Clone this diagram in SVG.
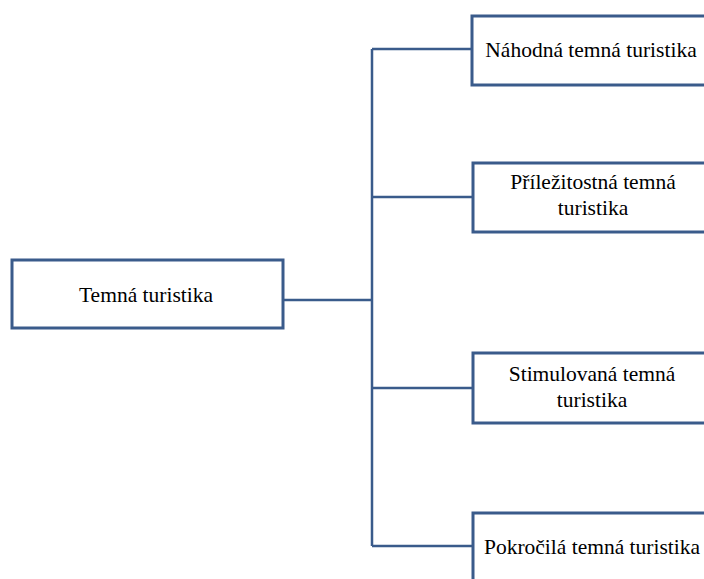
<svg xmlns="http://www.w3.org/2000/svg" width="704" height="579" viewBox="0 0 704 579">
<style>
.box{fill:#fff;stroke:#3A5B8B;stroke-width:3}
.ln{fill:none;stroke:#3A5B8B;stroke-width:2.5}
text{font-family:"Liberation Serif","Times New Roman",serif;font-size:21.5px;fill:#000;text-anchor:middle}
</style>
<rect width="704" height="579" fill="#fff"/>
<g id="connectors">
<path class="ln" d="M283 300H372M372 49V546M372 49H472M372 197H473M372 388H473M372 546H473"/>
</g>
<g id="root">
<rect class="box" x="12" y="260" width="271" height="68"/>
<text x="146" y="302">Temná turistika</text>
</g>
<g id="n1">
<rect class="box" x="472" y="16" width="245" height="69"/>
<text x="591" y="57">Náhodná temná turistika</text>
</g>
<g id="n2">
<rect class="box" x="473" y="163" width="245" height="69"/>
<text x="593" y="189">Příležitostná temná</text>
<text x="593" y="215">turistika</text>
</g>
<g id="n3">
<rect class="box" x="473" y="353" width="245" height="70"/>
<text x="592" y="381">Stimulovaná temná</text>
<text x="592" y="407">turistika</text>
</g>
<g id="n4">
<rect class="box" x="473" y="513" width="245" height="80"/>
<text x="592" y="554">Pokročilá temná turistika</text>
</g>
</svg>
